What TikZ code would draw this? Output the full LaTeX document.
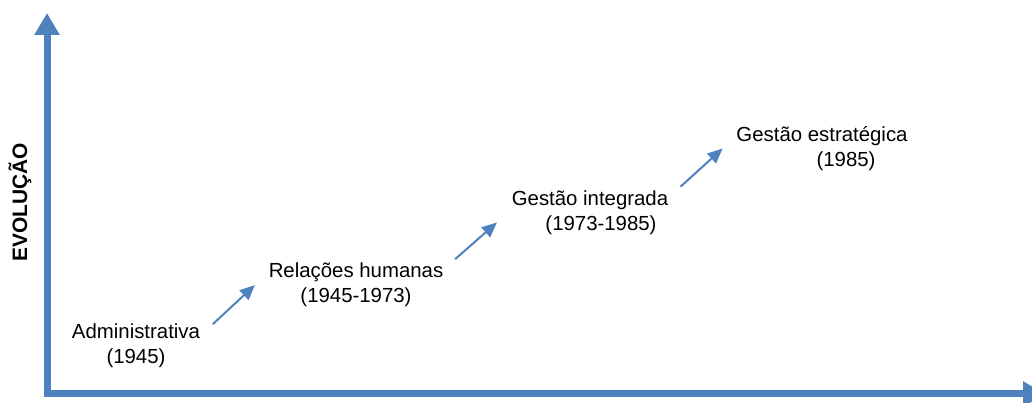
\documentclass[tikz,border=0pt]{standalone}
\usepackage{fontspec}
\setmainfont{Liberation Sans}
\usetikzlibrary{arrows.meta}
\definecolor{azul}{HTML}{4F81BD}
\begin{document}
\begin{tikzpicture}[
    eixo/.style={azul, line width=0.14cm,
      {Triangle[width=0.48cm,length=0.44cm]}-{Triangle[width=0.48cm,length=0.44cm]}},
    seta/.style={azul, line width=0.04cm, -{Triangle[width=0.26cm,length=0.3cm]}},
    etapa/.style={font=\fontsize{11.6}{14.2}\selectfont, align=center, inner sep=2pt}
  ]
  \useasboundingbox (-0.94,-0.18) rectangle (19.7,7.88);
  % Eixos
  \draw[eixo] (0,7.62) -- (0,0) -- (19.96,0);
  \node[rotate=90, font=\fontsize{11.9}{14}\selectfont\bfseries] (evol) at (-0.54,3.84) {EVOLUÇÃO};
  % Etapas
  \node[etapa] (adm) at (1.78,0.96) {Administrativa\\(1945)};
  \node[etapa] (rel) at (6.18,2.18) {Relações humanas\\(1945-1973)};
  \node[etapa] (integ) at (10.86,3.63) {Gestão integrada\\\hspace*{0.44cm}(1973-1985)};
  \node[etapa] (estr) at (15.5,4.91) {Gestão estratégica\\\hspace*{0.96cm}(1985)};
  % Setas
  \draw[seta] ([shift={(0.18cm,-0.08cm)}]adm.north east) -- ([xshift=-0.2cm]rel.west);
  \draw[seta] ([xshift=0.16cm]rel.north east) -- ([shift={(-0.22cm,-0.2cm)}]integ.west);
  \draw[seta] ([xshift=0.17cm]integ.north east) -- ([xshift=-0.2cm]estr.west);
\end{tikzpicture}
\end{document}
